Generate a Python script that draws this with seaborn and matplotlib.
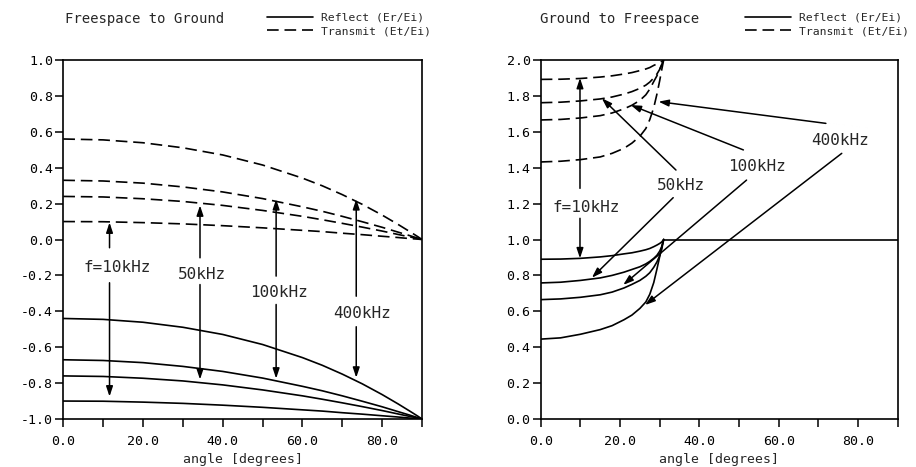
import matplotlib
matplotlib.use("Agg")
import matplotlib.pyplot as plt
from matplotlib.lines import Line2D
from matplotlib.ticker import FixedLocator, FuncFormatter
import pandas as pd
import seaborn as sns

# ---------------------------------------------------------------- data
FREQS = ["10kHz", "50kHz", "100kHz", "400kHz"]

# Freespace -> ground: incidence angle [deg]
FG_ANGLE = [0, 10, 20, 30, 40, 50, 60, 65, 70, 75, 80, 84, 87, 89, 90]
FG_REFLECT_10K = [-0.900, -0.901, -0.906, -0.913, -0.923, -0.935, -0.949, -0.956, -0.965, -0.973, -0.982, -0.989, -0.995, -0.998, -1.0]
FG_REFLECT_50K = [-0.760, -0.763, -0.773, -0.788, -0.810, -0.838, -0.871, -0.890, -0.910, -0.931, -0.953, -0.972, -0.986, -0.995, -1.0]
FG_REFLECT_100K = [-0.670, -0.674, -0.686, -0.707, -0.735, -0.772, -0.818, -0.843, -0.871, -0.901, -0.932, -0.959, -0.979, -0.993, -1.0]
FG_REFLECT_400K = [-0.440, -0.445, -0.461, -0.489, -0.529, -0.585, -0.658, -0.701, -0.750, -0.804, -0.864, -0.916, -0.957, -0.985, -1.0]
FG_TRANSMIT_10K = [0.100, 0.099, 0.094, 0.087, 0.077, 0.065, 0.051, 0.044, 0.035, 0.027, 0.018, 0.011, 0.005, 0.002, 0.0]
FG_TRANSMIT_50K = [0.240, 0.237, 0.227, 0.212, 0.190, 0.162, 0.129, 0.110, 0.090, 0.069, 0.047, 0.028, 0.014, 0.005, 0.0]
FG_TRANSMIT_100K = [0.330, 0.326, 0.314, 0.293, 0.265, 0.228, 0.182, 0.157, 0.129, 0.099, 0.068, 0.041, 0.021, 0.007, 0.0]
FG_TRANSMIT_400K = [0.560, 0.555, 0.539, 0.511, 0.471, 0.415, 0.342, 0.299, 0.250, 0.196, 0.136, 0.084, 0.043, 0.015, 0.0]

# Ground -> freespace: incidence angle [deg], total reflection beyond ~31 deg
GF_ANGLE = [0, 5, 10, 15, 18, 21, 23, 25, 26.5, 27.5, 28.5, 29.3, 30, 30.5, 31]
GF_REFLECT_10K = [0.890, 0.891, 0.895, 0.903, 0.910, 0.920, 0.926, 0.935, 0.943, 0.950, 0.960, 0.969, 0.978, 0.986, 1.0]
GF_REFLECT_50K = [0.758, 0.762, 0.772, 0.786, 0.800, 0.818, 0.833, 0.848, 0.864, 0.878, 0.895, 0.912, 0.935, 0.960, 1.0]
GF_REFLECT_100K = [0.665, 0.669, 0.678, 0.692, 0.707, 0.730, 0.750, 0.772, 0.795, 0.815, 0.845, 0.875, 0.910, 0.945, 1.0]
GF_REFLECT_400K = [0.445, 0.452, 0.472, 0.498, 0.520, 0.553, 0.579, 0.616, 0.652, 0.695, 0.760, 0.835, 0.905, 0.955, 1.0]
GF_TRANSMIT_10K = [1.892, 1.893, 1.897, 1.905, 1.912, 1.922, 1.930, 1.941, 1.950, 1.958, 1.970, 1.978, 1.986, 1.992, 2.0]
GF_TRANSMIT_50K = [1.762, 1.765, 1.772, 1.783, 1.794, 1.810, 1.824, 1.842, 1.860, 1.877, 1.900, 1.922, 1.948, 1.970, 2.0]
GF_TRANSMIT_100K = [1.666, 1.669, 1.677, 1.690, 1.705, 1.728, 1.748, 1.775, 1.806, 1.838, 1.880, 1.912, 1.950, 1.975, 2.0]
GF_TRANSMIT_400K = [1.432, 1.436, 1.445, 1.460, 1.480, 1.508, 1.537, 1.575, 1.618, 1.668, 1.735, 1.810, 1.885, 1.945, 2.0]
GF_TOTAL_ANGLE = [31, 90]
GF_TOTAL_REFLECT = [1.0, 1.0]

X_TICKS = [0, 10, 20, 30, 40, 50, 60, 70, 80, 90]
X_LABELED = [0, 20, 40, 60, 80]


def long_table(angle, reflect, transmit):
    rows = []
    for f, r, t in zip(FREQS, reflect, transmit):
        for a, v in zip(angle, r):
            rows.append((a, v, f, "Reflect"))
        for a, v in zip(angle, t):
            rows.append((a, v, f, "Transmit"))
    return pd.DataFrame(rows, columns=["angle", "value", "freq", "kind"])


fg = long_table(FG_ANGLE,
                [FG_REFLECT_10K, FG_REFLECT_50K, FG_REFLECT_100K, FG_REFLECT_400K],
                [FG_TRANSMIT_10K, FG_TRANSMIT_50K, FG_TRANSMIT_100K, FG_TRANSMIT_400K])
gf = long_table(GF_ANGLE,
                [GF_REFLECT_10K, GF_REFLECT_50K, GF_REFLECT_100K, GF_REFLECT_400K],
                [GF_TRANSMIT_10K, GF_TRANSMIT_50K, GF_TRANSMIT_100K, GF_TRANSMIT_400K])
gf_total = pd.DataFrame({"angle": GF_TOTAL_ANGLE, "value": GF_TOTAL_REFLECT})

# ---------------------------------------------------------------- style
sns.set_style("ticks")
plt.rcParams["font.family"] = ["DejaVu Sans Mono", "DejaVu Sans"]
plt.rcParams["axes.unicode_minus"] = False

LW = 1.2
DASH = (7, 3.5)
DASHES = {"Reflect": "", "Transmit": DASH}

fig = plt.figure(figsize=(9.16, 4.67), dpi=100)
ax_l = fig.add_axes([0.0691, 0.1028, 0.3916, 0.7687])
ax_r = fig.add_axes([0.5903, 0.1028, 0.3897, 0.7687])

for ax, df in ((ax_l, fg), (ax_r, gf)):
    sns.lineplot(data=df, x="angle", y="value", units="freq", estimator=None,
                 style="kind", dashes=DASHES, color="black", lw=LW,
                 legend=False, ax=ax)
sns.lineplot(data=gf_total, x="angle", y="value", color="black", lw=LW,
             legend=False, ax=ax_r)


def fmt_x(v, _):
    return f"{v:.1f}" if round(v) in X_LABELED else ""


for ax, ylo, yhi in ((ax_l, -1.0, 1.0), (ax_r, 0.0, 2.0)):
    ax.set_xlim(0, 90)
    ax.set_ylim(ylo, yhi)
    ax.xaxis.set_major_locator(FixedLocator(X_TICKS))
    ax.xaxis.set_major_formatter(FuncFormatter(fmt_x))
    ax.set_yticks([round(ylo + 0.2 * i, 1) for i in range(11)])
    ax.yaxis.set_major_formatter(FuncFormatter(lambda v, _: f"{v:.1f}"))
    ax.tick_params(axis="x", direction="out", length=5.8, width=1.1, pad=6,
                   labelsize=9.5, colors="black")
    ax.tick_params(axis="y", direction="out", length=5.8, width=1.1, pad=1.5,
                   labelsize=9.5, colors="black")
    for s in ax.spines.values():
        s.set_visible(True)
        s.set_linewidth(1.2)
        s.set_color("black")
    ax.set_xlabel("angle [degrees]", fontsize=9.5, labelpad=3)
    ax.set_ylabel("")
    ax.set_facecolor("white")

# ---------------------------------------------------------------- annotations
ARROW = dict(arrowstyle="-|>,head_length=0.6,head_width=0.2", color="black",
             lw=1.1, shrinkA=0, shrinkB=0, mutation_scale=10)
LABEL_SIZE = 11.5


def arrow(ax, start, tip):
    ax.annotate("", xy=tip, xytext=start, arrowprops=ARROW)


# left panel: vertical double arrows from each label to its two curves
left_notes = [
    ("f=10kHz", (13.4, -0.158), 11.6, (-0.046, 0.095), (-0.241, -0.875)),
    ("50kHz", (34.8, -0.195), 34.3, (-0.102, 0.19), (-0.251, -0.78)),
    ("100kHz", (54.0, -0.294), 53.4, (-0.204, 0.225), (-0.362, -0.775)),
    ("400kHz", (75.0, -0.412), 73.5, (-0.316, 0.225), (-0.486, -0.77)),
]
for text, pos, xa, up, down in left_notes:
    ax_l.text(*pos, text, ha="center", va="center", fontsize=LABEL_SIZE)
    arrow(ax_l, (xa, up[0]), (xa, up[1]))
    arrow(ax_l, (xa, down[0]), (xa, down[1]))

# right panel: slanted arrows from each label to its two curves
ax_r.text(11.4, 1.177, "f=10kHz", ha="center", va="center", fontsize=LABEL_SIZE)
arrow(ax_r, (9.9, 1.285), (9.9, 1.90))
arrow(ax_r, (9.9, 1.118), (9.9, 0.895))
right_notes = [
    ("50kHz", (35.3, 1.30), (34.1, 1.387), (15.4, 1.787), (33.4, 1.233), (12.9, 0.787)),
    ("100kHz", (54.4, 1.405), (51.1, 1.499), (22.7, 1.749), (51.9, 1.331), (20.8, 0.747)),
    ("400kHz", (75.4, 1.554), (71.9, 1.647), (29.7, 1.768), (75.9, 1.480), (26.3, 0.635)),
]
for text, pos, s1, t1, s2, t2 in right_notes:
    ax_r.text(*pos, text, ha="center", va="center", fontsize=LABEL_SIZE)
    arrow(ax_r, s1, t1)
    arrow(ax_r, s2, t2)

# ---------------------------------------------------------------- titles and legends
W, H = 916, 467
fig.text(65 / W, 1 - 19 / H, "Freespace to Ground", ha="left", va="center", fontsize=10)
fig.text(540 / W, 1 - 19 / H, "Ground to Freespace", ha="left", va="center", fontsize=10)

handles = [Line2D([], [], color="black", lw=LW),
           Line2D([], [], color="black", lw=LW, dashes=DASH)]
names = ["Reflect (Er/Ei)", "Transmit (Et/Ei)"]
for x0 in (267, 745):
    fig.legend(handles, names, loc="upper left", bbox_to_anchor=(x0 / W, 1 - 13 / H),
               frameon=False, fontsize=8.2, handlelength=4.0, handletextpad=0.7,
               labelspacing=0.3, borderpad=0, borderaxespad=0)

fig.savefig("out.png", dpi=100, facecolor="white")
